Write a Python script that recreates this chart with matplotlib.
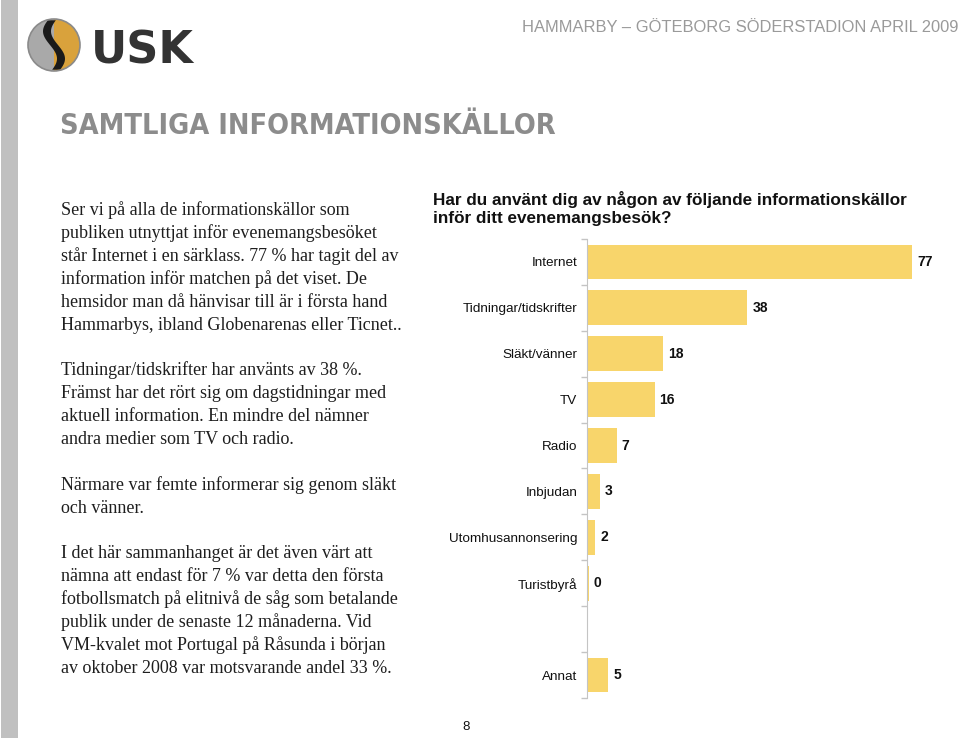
import matplotlib
matplotlib.use('Agg')
import matplotlib.pyplot as plt
import numpy as np
from matplotlib import font_manager
from matplotlib.patches import Rectangle, Circle, Wedge, Polygon

# ---------------- data ----------------
categories = ['Internet', 'Tidningar/tidskrifter', 'Släkt/vänner', 'TV', 'Radio',
              'Inbjudan', 'Utomhusannonsering', 'Turistbyrå', '', 'Annat']
values = [77, 38, 18, 16, 7, 3, 2, 0.4, np.nan, 5]

header = 'HAMMARBY – GÖTEBORG SÖDERSTADION APRIL 2009'
page_title = 'SAMTLIGA INFORMATIONSKÄLLOR'
chart_title = ['Har du använt dig av någon av följande informationskällor',
               'inför ditt evenemangsbesök?']
paragraphs = [
    ['Ser vi på alla de informationskällor som',
     'publiken utnyttjat inför evenemangsbesöket',
     'står Internet i en särklass. 77 % har tagit del av',
     'information inför matchen på det viset. De',
     'hemsidor man då hänvisar till är i första hand',
     'Hammarbys, ibland Globenarenas eller Ticnet..'],
    ['Tidningar/tidskrifter har använts av 38 %.',
     'Främst har det rört sig om dagstidningar med',
     'aktuell information. En mindre del nämner',
     'andra medier som TV och radio.'],
    ['Närmare var femte informerar sig genom släkt',
     'och vänner.'],
    ['I det här sammanhanget är det även värt att',
     'nämna att endast för 7 % var detta den första',
     'fotbollsmatch på elitnivå de såg som betalande',
     'publik under de senaste 12 månaderna. Vid',
     'VM-kvalet mot Portugal på Råsunda i början',
     'av oktober 2008 var motsvarande andel 33 %.'],
]
page_number = '8'

# ---------------- style ----------------
W, H = 960, 742
BAR = '#F8D56B'
names = {f.name for f in font_manager.fontManager.ttflist}
SANS = 'Liberation Sans' if 'Liberation Sans' in names else 'DejaVu Sans'
SERIF = 'Liberation Serif' if 'Liberation Serif' in names else 'DejaVu Serif'
if 'Liberation Sans Narrow' in names:
    COND = dict(family='Liberation Sans Narrow', fontweight='bold')
else:
    COND = dict(family='DejaVu Sans', fontstretch='condensed', fontweight='bold')

fig = plt.figure(figsize=(W / 100, H / 100), dpi=100)
fig.patch.set_facecolor('white')
bg = fig.add_axes([0, 0, 1, 1])
bg.set_xlim(0, W)
bg.set_ylim(H, 0)
bg.axis('off')

renderer = fig.canvas.get_renderer()


def fit(t, width):
    w = t.get_window_extent(renderer).width
    t.set_fontsize(t.get_fontsize() * width / w)


# left gray bar
bg.add_patch(Rectangle((1, 0), 17, 738, color='#c0c0c0', lw=0))

# logo
cx, cy, r = 54, 45, 26
bg.add_patch(Wedge((cx, cy), r, 90, 270, color='#a9a9a9', lw=0))
bg.add_patch(Wedge((cx, cy), r, -90, 90, color='#d9a23c', lw=0))
tt = np.linspace(-1, 1, 40)
xs = cx + 7 * np.sin(tt * np.pi * 0.9)
ys = cy + tt * r * 0.95
poly = np.concatenate([np.column_stack([xs - 4, ys]), np.column_stack([xs + 4, ys])[::-1]])
bg.add_patch(Polygon(poly, closed=True, color='#1a1a1a', lw=0))
bg.add_patch(Circle((cx, cy), r, fill=False, ec='#8a8a8a', lw=1.2))
bg.text(91, 63, 'USK', family='DejaVu Sans', fontweight='bold', color='#333333',
        fontsize=32, ha='left', va='baseline')

# header
t = bg.text(958, 28, header, family=SANS, color='#9a9a9a', fontsize=12,
            ha='right', va='center')
fit(t, 435)

# page title
t = bg.text(60, 134, page_title, color='#8c8c8c', fontsize=30,
            ha='left', va='baseline', **COND)
fit(t, 495)

# left text
para_y = [210, 370, 485, 553]
for y0, lines in zip(para_y, paragraphs):
    for i, line in enumerate(lines):
        bg.text(61, y0 + i * 23.1, line, family=SERIF, fontsize=13.0,
                color='#1e1e1e', ha='left', va='center')

# chart title
t = bg.text(433, 199, chart_title[0], family=SANS, fontweight='bold',
            fontsize=12, color='#111111', ha='left', va='center')
fit(t, 470)
fs = t.get_fontsize()
bg.text(433, 219, chart_title[1], family=SANS, fontweight='bold',
        fontsize=fs, color='#111111', ha='left', va='center')

bg.text(466, 727, page_number, family=SANS, fontsize=9.5, color='#111111',
        ha='center', va='center')

# ---------------- bar chart ----------------
x0, x1 = 587, 915
y_top, y_bot = 239, 698
ax = fig.add_axes([x0 / W, 1 - y_bot / H, (x1 - x0) / W, (y_bot - y_top) / H])
ax.patch.set_alpha(0)
n = len(categories)
pos = np.arange(n)
xmax = 77 * (x1 - x0) / (912 - x0)
ax.barh(pos, np.nan_to_num(values), height=0.76, color=BAR, lw=0)
ax.set_xlim(0, xmax)
ax.set_ylim(n - 0.5, -0.5)
for p, v in zip(pos, values):
    if np.isnan(v):
        continue
    ax.text(v + 1.2, p, f'{v:.0f}', family=SANS, fontweight='bold', fontsize=10,
            color='#111111', ha='left', va='center')
ax.set_yticks(pos)
ax.set_yticklabels(categories, family=SANS, fontsize=9.7, color='#111111')
ax.set_yticks(np.arange(-0.5, n, 1), minor=True)
ax.tick_params(axis='y', which='major', length=0, pad=7)
ax.tick_params(axis='y', which='minor', length=4, color='#c4c4c4', width=1)
ax.set_xticks([])
for s in ['top', 'right', 'bottom']:
    ax.spines[s].set_visible(False)
ax.spines['left'].set_color('#c4c4c4')

fig.savefig('out.png', dpi=100)
